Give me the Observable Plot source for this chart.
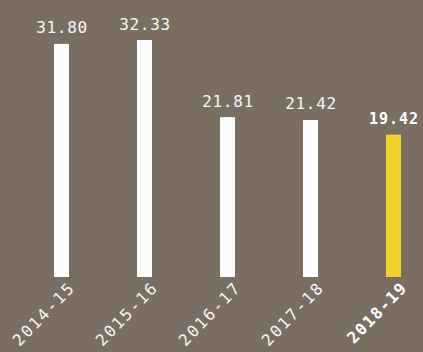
<!DOCTYPE html>
<html><head><meta charset="utf-8">
<script src="https://cdn.jsdelivr.net/npm/d3@7"></script>
<script src="https://cdn.jsdelivr.net/npm/@observablehq/plot@0.6"></script>
<style>
html,body{margin:0;padding:0;background:#7a6e62;}
#chart svg{display:block;}
</style>
</head><body><div id="chart"></div>
<script>
const years = ["2014-15","2015-16","2016-17","2017-18","2018-19"];
const values = [31.80, 32.33, 21.81, 21.42, 19.42];
const labels = ["31.80","32.33","21.81","21.42","19.42"];
const highlight = "2018-19";

const data = years.map((y,i)=>({year:y, value:values[i], label:labels[i], hi: y===highlight}));
const normal = data.filter(d=>!d.hi), hi = data.filter(d=>d.hi);
const font = "DejaVu Sans Mono";

const chart = Plot.plot({
  width: 423, height: 352,
  marginTop: 40, marginBottom: 75, marginLeft: 44, marginRight: 12,
  style: {background: "#7a6e62", fontFamily: font},
  x: {domain: years, paddingInner: 0.82, paddingOuter: 0.1, axis: null},
  y: {domain: [0, 32.33], axis: null},
  marks: [
    Plot.barY(data, {x: "year", y: "value", fill: d => d.hi ? "#f1d22c" : "#fcfcfc"}),
    Plot.text(normal, {x: "year", y: "value", text: "label", dy: -11, lineAnchor: "bottom", fill: "#f6f6f6", fontSize: 16, fontFamily: font}),
    Plot.text(hi, {x: "year", y: "value", text: "label", dy: -11, lineAnchor: "bottom", fill: "#ffffff", fontSize: 15, fontWeight: "bold", fontFamily: font}),
    Plot.text(normal, {x: "year", y: 0, text: "year", rotate: -46, textAnchor: "end", lineAnchor: "top", dx: 6, dy: 3, fill: "#f6f6f6", fontSize: 16, fontFamily: font}),
    Plot.text(hi, {x: "year", y: 0, text: "year", rotate: -46, textAnchor: "end", lineAnchor: "top", dx: 6, dy: 3, fill: "#ffffff", fontSize: 16, fontWeight: "bold", fontFamily: font})
  ]
});
const groups = d3.select(chart).selectAll("g[aria-label=text]").nodes();
const spacing = [0.7, 1, 2, 1.5];
groups.forEach((g, i) => d3.select(g).style("letter-spacing", spacing[i] + "px"));
document.getElementById("chart").appendChild(chart);
</script>
</body></html>
